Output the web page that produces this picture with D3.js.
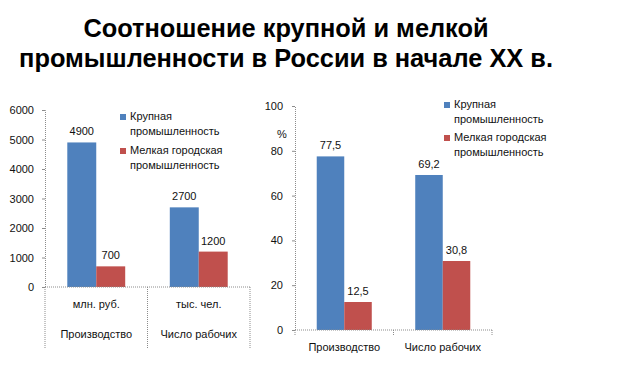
<!DOCTYPE html>
<html><head><meta charset="utf-8">
<script src="https://cdn.jsdelivr.net/npm/d3@7"></script>
<style>
html,body{margin:0;padding:0;background:#fff;}
svg{display:block;}
text{font-family:"Liberation Sans",Arial,sans-serif;}
</style></head>
<body>
<svg id="c" width="623" height="368"></svg>
<script>
// ---- data ----
const titleLines = ["Соотношение крупной и мелкой", "промышленности в России в начале XX в."];
const seriesNames = ["Крупная промышленность", "Мелкая городская промышленность"];
const legendLines = [["Крупная", "промышленность"], ["Мелкая городская", "промышленность"]];
const categories = ["Производство", "Число рабочих"];
const units = ["млн. руб.", "тыс. чел."];
const largeAbs = [4900, 2700];
const smallAbs = [700, 1200];
const absTicks = [0, 1000, 2000, 3000, 4000, 5000, 6000];
const largePct = [77.5, 69.2];
const smallPct = [12.5, 30.8];
const pctTicks = [0, 20, 40, 60, 80, 100];
const colors = ["#4F81BD", "#C0504D"];

const svg = d3.select("#c");
const fmtComma = v => String(v).replace(".", ",");

// ---- title ----
const tg = svg.append("g");
const tTexts = tg.selectAll("text").data(titleLines).join("text")
  .attr("x", 286).attr("y", (d, i) => i === 0 ? 37 : 67)
  .attr("text-anchor", "middle")
  .style("font-family", "'Liberation Sans',Arial,sans-serif")
  .style("font-weight", "bold")
  .style("font-size", "24px")
  .attr("fill", "#000")
  .text(d => d);
const w2 = tTexts.nodes()[1].getComputedTextLength();
const fs = Math.min(25.5, 24 * 534 / w2);
tTexts.style("font-size", fs + "px");

function drawChart(cfg) {
  const g = svg.append("g");
  const y = d3.scaleLinear().domain(cfg.domain).range([cfg.y0, cfg.y1]);
  const x0 = d3.scaleBand().domain(categories).range([cfg.xl, cfg.xr]).paddingInner(0).paddingOuter(0);
  const x1 = d3.scaleBand().domain(seriesNames).range([0, x0.bandwidth()]).paddingInner(0).paddingOuter(cfg.po);

  // y axis
  const ya = d3.axisLeft(y).tickValues(cfg.ticks).tickSize(3).tickPadding(cfg.tp).tickFormat(d => d);
  const yg = g.append("g").attr("transform", `translate(${cfg.xl},0)`).call(ya);
  yg.select(".domain").attr("stroke", "#8c8c8c").attr("stroke-dasharray", "1,1");
  yg.selectAll(".tick line").attr("stroke", "#8c8c8c");
  yg.selectAll(".tick text").style("font-size", "11px").attr("fill", "#111");

  // bars
  const data = categories.map((c, i) => ({c, vals: [cfg.large[i], cfg.small[i]]}));
  const grp = g.selectAll("g.grp").data(data).join("g").attr("class", "grp")
    .attr("transform", d => `translate(${x0(d.c)},0)`);
  grp.selectAll("rect").data(d => d.vals.map((v, k) => ({v, s: seriesNames[k], k}))).join("rect")
    .attr("x", d => x1(d.s)).attr("width", x1.bandwidth())
    .attr("y", d => y(d.v)).attr("height", d => y(0) - y(d.v))
    .attr("fill", d => colors[d.k]);
  grp.selectAll("text.val").data(d => d.vals.map((v, k) => ({v, s: seriesNames[k], k}))).join("text")
    .attr("class", "val")
    .attr("x", d => x1(d.s) + x1.bandwidth() / 2)
    .attr("y", d => y(d.v) - 7)
    .attr("text-anchor", "middle").style("font-size", "11px").attr("fill", "#111")
    .text(d => cfg.fmt(d.v));

  // x axis line
  g.append("line").attr("x1", cfg.xl).attr("x2", cfg.xr).attr("y1", y(0)).attr("y2", y(0))
    .attr("stroke", "#8c8c8c").attr("stroke-dasharray", "1,1");
  // separators
  const seps = [cfg.xl].concat(categories.map(c => x0(c) + x0.bandwidth()));
  g.selectAll("line.sep").data(seps).join("line").attr("class", "sep")
    .attr("x1", d => d).attr("x2", d => d).attr("y1", y(0)).attr("y2", y(0) + cfg.sepLen)
    .attr("stroke", "#8c8c8c").attr("stroke-dasharray", "1,1");

  // category labels
  if (cfg.units) {
    g.selectAll("text.unit").data(units).join("text").attr("class", "unit")
      .attr("x", (d, i) => x0(categories[i]) + x0.bandwidth() / 2).attr("y", y(0) + 21)
      .attr("text-anchor", "middle").style("font-size", "11px").attr("fill", "#111").text(d => d);
  }
  g.selectAll("text.cat").data(categories).join("text").attr("class", "cat")
    .attr("x", d => x0(d) + x0.bandwidth() / 2).attr("y", y(0) + cfg.catDy)
    .attr("text-anchor", "middle").style("font-size", "11px").attr("fill", "#111").text(d => d);

  // legend
  const lg = g.append("g");
  legendLines.forEach((lines, k) => {
    const by = cfg.legY[k];
    lg.append("rect").attr("x", cfg.legX).attr("y", by - 6).attr("width", 6).attr("height", 6).attr("fill", colors[k]);
    lines.forEach((t, j) => {
      lg.append("text").attr("x", cfg.legX + 10).attr("y", by + j * 15)
        .style("font-size", "11px").attr("fill", "#111").text(t);
    });
  });
  return {g, y};
}

drawChart({
  domain: [0, 6000], y0: 287, y1: 110, xl: 45, xr: 250, po: 0.77, tp: 8,
  ticks: absTicks, large: largeAbs, small: smallAbs, fmt: v => v,
  sepLen: 61, units: true, catDy: 51,
  legX: 120, legY: [120, 154]
});

const r = drawChart({
  domain: [0, 100], y0: 330, y1: 106, xl: 295, xr: 492, po: 0.79, tp: 9,
  ticks: pctTicks, large: largePct, small: smallPct, fmt: fmtComma,
  sepLen: 6, units: false, catDy: 21,
  legX: 444, legY: [108, 141]
});
r.g.append("text").attr("x", 282).attr("y", 138).attr("text-anchor", "middle")
  .style("font-size", "11px").attr("fill", "#111").text("%");
</script>
</body></html>
